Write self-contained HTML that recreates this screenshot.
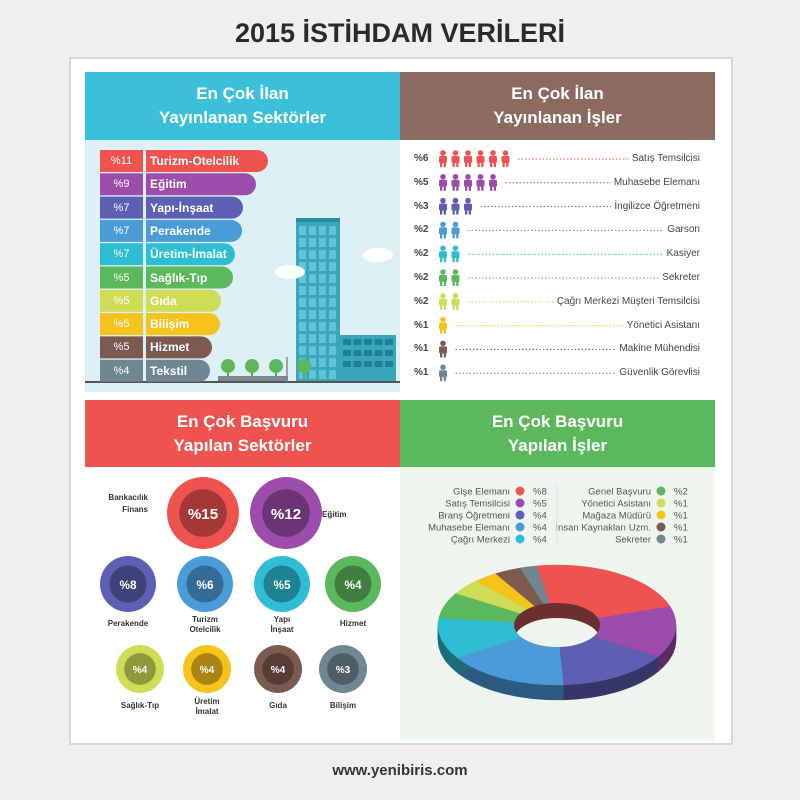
<!DOCTYPE html>
<html><head><meta charset="utf-8"><style>
body{margin:0;width:800px;height:800px;background:#efefef;font-family:"Liberation Sans",sans-serif;position:relative;overflow:hidden}
.a{position:absolute}
.t{position:absolute;white-space:nowrap}
.hd{position:absolute;color:#fff;font-weight:bold;font-size:17px;text-align:center;line-height:24px;display:flex;align-items:center;justify-content:center}
</style></head><body>
<div class="t" style="left:0;width:800px;top:18px;text-align:center;font-size:27px;font-weight:bold;color:#2a2a2a">2015 İSTİHDAM VERİLERİ</div>
<div class="a" style="left:69px;top:57px;width:660px;height:684px;background:#fff;border:2px solid #d8d8d8"></div>
<div class="hd" style="left:85px;top:72px;width:315px;height:68px;background:#3cbfd9">En Çok İlan<br>Yayınlanan Sektörler</div>
<div class="hd" style="left:400px;top:72px;width:315px;height:68px;background:#8b6b60">En Çok İlan<br>Yayınlanan İşler</div>
<div class="a" style="left:85px;top:140px;width:315px;height:252px;background:#dcf0f6"></div>
<div class="hd" style="left:85px;top:400px;width:315px;height:67px;background:#ef5350">En Çok Başvuru<br>Yapılan Sektörler</div>
<div class="hd" style="left:400px;top:400px;width:315px;height:67px;background:#5cb85c">En Çok Başvuru<br>Yapılan İşler</div>
<div class="a" style="left:400px;top:467px;width:315px;height:273px;background:#eef5ef"></div>
<svg class="a" style="left:0;top:0" width="800" height="800" id="S"></svg>
<div id="L"></div>
<div class="t" style="left:0;width:800px;top:762px;text-align:center;font-size:15px;font-weight:bold;color:#333">www.yenibiris.com</div>
<script>
(function(){
const C=['#ef5350','#9c4dab','#5c5fb2','#4b9bd9','#2fbdd3','#5cb85c','#cfdc55','#f6c21c','#7d5a4f','#6f8791'];
const D=['#8a2f2e','#5a2c63','#353768','#2c5b80','#1b6e7b','#356b35','#7a8232','#8f7010','#4a352f','#415057'];
let h='',s='';
const sec=[['%11','Turizm-Otelcilik',268],['%9','Eğitim',256],['%7','Yapı-İnşaat',243],['%7','Perakende',242],['%7','Üretim-İmalat',235],['%5','Sağlık-Tıp',233],['%5','Gıda',221],['%5','Bilişim',220],['%5','Hizmet',212],['%4','Tekstil',210]];
s+='<rect x="296" y="218" width="44" height="164" fill="#3aa6bc"/><rect x="296" y="218" width="44" height="4" fill="#2b8da2"/>';
for(let r=0;r<13;r++)for(let c=0;c<4;c++)s+=`<rect x="${299+c*10}" y="${226+r*12}" width="7" height="9" fill="#62c3d6"/>`;
s+='<rect x="340" y="335" width="56" height="47" fill="#3aa6bc"/>';
for(let r=0;r<3;r++)for(let c=0;c<5;c++)s+=`<rect x="${343+c*10.5}" y="${339+r*11}" width="8" height="6" fill="#1f7f93"/>`;
s+='<ellipse cx="290" cy="272" rx="15" ry="7" fill="#fff"/><ellipse cx="378" cy="255" rx="15" ry="7" fill="#fff"/>';
[228,252,276,304].forEach(x=>s+=`<rect x="${x-1}" y="370" width="2" height="12" fill="#5a4"/><circle cx="${x}" cy="366" r="7" fill="#5cb85c"/>`);
s+='<rect x="218" y="376" width="70" height="5" fill="#7a8a90"/><line x1="85" y1="382" x2="400" y2="382" stroke="#555" stroke-width="2"/><line x1="287" y1="357" x2="287" y2="382" stroke="#888" stroke-width="1.5"/>';
sec.forEach((v,i)=>{let y=150+i*23.3;
s+=`<rect x="100" y="${y}" width="43" height="22" fill="${C[i]}"/><path d="M146 ${y}H${v[2]-11}A11 11 0 0 1 ${v[2]-11} ${y+22}H146Z" fill="${C[i]}"/>`;
h+=`<div class="t" style="left:100px;width:43px;text-align:center;top:${y+5}px;font-size:11px;color:#fff">${v[0]}</div><div class="t" style="left:150px;top:${y+4}px;font-size:12px;font-weight:bold;color:#fff">${v[1]}</div>`;});
const jobs=[['%6','Satış Temsilcisi',6],['%5','Muhasebe Elemanı',5],['%3','İngilizce Öğretmeni',3],['%2','Garson',2],['%2','Kasiyer',2],['%2','Sekreter',2],['%2','Çağrı Merkezi Müşteri Temsilcisi',2],['%1','Yönetici Asistanı',1],['%1','Makine Mühendisi',1],['%1','Güvenlik Görevlisi',1]];
jobs.forEach((v,i)=>{let y=159+i*23.8;
h+=`<div class="t" style="left:414px;top:${y-6}px;font-size:10px;font-weight:bold;color:#444">${v[0]}</div><div class="t" style="right:100px;top:${y-6}px;font-size:10px;color:#444;background:#fff;padding-left:3px">${v[1]}</div>`;
for(let k=0;k<v[2];k++){let x=443+k*12.5;s+=`<circle cx="${x}" cy="${y-6}" r="2.8" fill="${C[i]}"/><rect x="${x-4}" y="${y-3}" width="8" height="7" rx="1.5" fill="${C[i]}"/><rect x="${x-3}" y="${y+3}" width="2.3" height="5" fill="${C[i]}"/><rect x="${x+0.7}" y="${y+3}" width="2.3" height="5" fill="${C[i]}"/>`;}
s+=`<line x1="${443+v[2]*12.5}" y1="${y}" x2="690" y2="${y}" stroke="${C[i]}" stroke-width="1" stroke-dasharray="1.5 2"/>`;});
const cir=[[203,513,36,0,'%15'],[286,513,36,1,'%12'],[128,584,28,2,'%8'],[205,584,28,3,'%6'],[282,584,28,4,'%5'],[353,584,28,5,'%4'],[140,669,24,6,'%4'],[207,669,24,7,'%4'],[278,669,24,8,'%4'],[343,669,24,9,'%3']];
cir.forEach(c=>{s+=`<circle cx="${c[0]}" cy="${c[1]}" r="${c[2]}" fill="${C[c[3]]}"/><circle cx="${c[0]}" cy="${c[1]}" r="${c[2]*0.66}" fill="${D[c[3]]}" opacity="0.75"/><text x="${c[0]}" y="${c[1]+c[2]*0.17}" text-anchor="middle" fill="#fff" font-weight="bold" font-size="${c[2]*0.42}" font-family="Liberation Sans">${c[4]}</text>`;});
const lb=[[148,500,'Bankacılık','end'],[148,512,'Finans','end'],[322,517,'Eğitim','start'],[128,626,'Perakende','middle'],[205,622,'Turizm','middle'],[205,632,'Otelcilik','middle'],[282,622,'Yapı','middle'],[282,632,'İnşaat','middle'],[353,626,'Hizmet','middle'],[140,708,'Sağlık-Tıp','middle'],[207,704,'Üretim','middle'],[207,714,'İmalat','middle'],[278,708,'Gıda','middle'],[343,708,'Bilişim','middle']];
lb.forEach(l=>s+=`<text x="${l[0]}" y="${l[1]}" text-anchor="${l[3]}" font-size="8" font-weight="bold" fill="#333" font-family="Liberation Sans">${l[2]}</text>`);
const lg1=[['Gişe Elemanı','%8'],['Satış Temsilcisi','%5'],['Branş Öğretmeni','%4'],['Muhasebe Elemanı','%4'],['Çağrı Merkezi','%4']];
const lg2=[['Genel Başvuru','%2'],['Yönetici Asistanı','%1'],['Mağaza Müdürü','%1'],['İnsan Kaynakları Uzm.','%1'],['Sekreter','%1']];
lg1.forEach((v,i)=>{let y=491+i*12;s+=`<text x="510" y="${y+3.5}" text-anchor="end" font-size="9.5" fill="#555" font-family="Liberation Sans">${v[0]}</text><circle cx="520" cy="${y}" r="4.5" fill="${C[i]}"/><text x="533" y="${y+3.5}" font-size="9.5" fill="#555" font-family="Liberation Sans">${v[1]}</text>`;});
lg2.forEach((v,i)=>{let y=491+i*12;s+=`<text x="651" y="${y+3.5}" text-anchor="end" font-size="9.5" fill="#555" font-family="Liberation Sans">${v[0]}</text><circle cx="661" cy="${y}" r="4.5" fill="${C[i+5]}"/><text x="674" y="${y+3.5}" font-size="9.5" fill="#555" font-family="Liberation Sans">${v[1]}</text>`;});
s+='<line x1="557" y1="485" x2="557" y2="545" stroke="#dde" />';
const cx=557,cy=625,R=119,Ry=60,r=43,ry=22,T=15;
const ang=[82,50,55,60,40,25,15,12,13,8];
let a0=-100;
function P(a,rx,ryy,dy){return (cx+rx*Math.cos(a*Math.PI/180)).toFixed(2)+' '+(cy+dy+ryy*Math.sin(a*Math.PI/180)).toFixed(2);}
function wedge(a,b,dy,col){let L=(b-a)>180?1:0;return `<path d="M${P(a,R,Ry,dy)}A${R} ${Ry} 0 ${L} 1 ${P(b,R,Ry,dy)}L${P(b,r,ry,dy)}A${r} ${ry} 0 ${L} 0 ${P(a,r,ry,dy)}Z" fill="${col}" stroke="${col}" stroke-width="0.5"/>`;}
let side='',face='';ang.forEach((g,i)=>{let b=a0+g;for(let d=T;d>0;d-=1)side+=wedge(a0,b,d,D[i]);face+=wedge(a0,b,0,C[i]);a0=b;});
s+=side+face;
s+=`<clipPath id="hc"><ellipse cx="${cx}" cy="${cy}" rx="${r}" ry="${ry}"/></clipPath><g clip-path="url(#hc)"><rect x="${cx-r}" y="${cy-ry}" width="${2*r}" height="${2*ry}" fill="#6b2f2f"/><ellipse cx="${cx}" cy="${cy+T}" rx="${r}" ry="${ry}" fill="#eef5ef"/></g>`;
document.getElementById('S').innerHTML=s;document.getElementById('L').innerHTML=h;
})();
</script>
</body></html>
